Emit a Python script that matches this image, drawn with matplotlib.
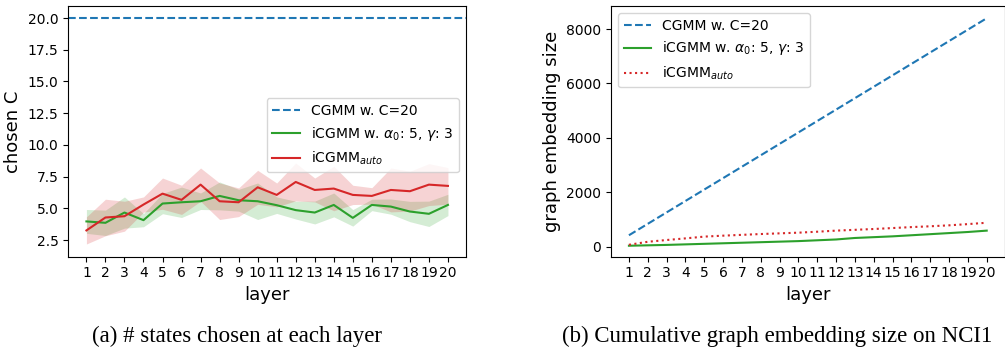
import matplotlib
matplotlib.use("Agg")
import numpy as np
import matplotlib.pyplot as plt

layers = list(range(1, 21))

# chosen C per layer (mean and std)
cgmm_c = 20
icgmm_mean = [3.97, 3.86, 4.67, 4.07, 5.38, 5.48, 5.56, 5.98, 5.64, 5.56,
              5.25, 4.86, 4.67, 5.27, 4.25, 5.27, 5.14, 4.75, 4.57, 5.27]
icgmm_std = [0.94, 1.0, 1.23, 0.52, 0.8, 1.2, 0.65, 1.1, 0.86, 1.44,
             0.65, 0.7, 0.9, 0.94, 0.65, 0.45, 0.6, 0.8, 1.0, 0.84]
auto_mean = [3.26, 4.28, 4.38, 5.30, 6.16, 5.67, 6.87, 5.56, 5.48, 6.66,
             6.06, 7.08, 6.45, 6.56, 6.06, 5.98, 6.45, 6.35, 6.87, 6.77]
auto_std = [1.07, 1.44, 1.18, 0.6, 1.23, 1.15, 1.31, 1.44, 1.13, 1.34,
            0.94, 1.49, 0.94, 1.75, 0.76, 0.65, 1.73, 1.57, 1.65, 1.44]

# cumulative graph embedding size
cgmm_size = [420, 840, 1260, 1680, 2100, 2520, 2940, 3360, 3780, 4200,
             4620, 5040, 5460, 5880, 6300, 6720, 7140, 7560, 7980, 8400]
icgmm_size = [35, 50, 65, 85, 105, 125, 145, 165, 185, 205,
              235, 265, 320, 350, 380, 420, 460, 500, 540, 590]
auto_size = [70, 180, 245, 305, 370, 405, 435, 465, 490, 515,
             550, 590, 620, 650, 685, 720, 750, 785, 830, 880]

lbl_cgmm = 'CGMM w. C=20'
lbl_icgmm = r'iCGMM w. $\alpha_0$: 5, $\gamma$: 3'
lbl_auto = r'iCGMM$_{auto}$'

fig = plt.figure(figsize=(10.05, 3.49), dpi=100)
ax1 = fig.add_axes([0.068, 0.2645, 0.3957, 0.7183])
ax2 = fig.add_axes([0.608, 0.2645, 0.3916, 0.7183])

x = np.array(layers)
ax1.axhline(cgmm_c, color='tab:blue', linestyle='--', label=lbl_cgmm)
m, s = np.array(icgmm_mean), np.array(icgmm_std)
ax1.plot(x, m, color='tab:green', label=lbl_icgmm)
ax1.fill_between(x, m - s, m + s, color='tab:green', alpha=0.2, linewidth=0)
m, s = np.array(auto_mean), np.array(auto_std)
ax1.plot(x, m, color='tab:red', label=lbl_auto)
ax1.fill_between(x, m - s, m + s, color='tab:red', alpha=0.2, linewidth=0)
ax1.set_xticks(layers)
ax1.set_xlim(0.05, 20.95)
ax1.set_yticks([2.5, 5, 7.5, 10, 12.5, 15, 17.5, 20])
ax1.set_ylim(1.19, 20.95)
ax1.tick_params(labelsize=10)
ax1.set_xlabel('layer', fontsize=13)
ax1.set_ylabel('chosen C', fontsize=13)
ax1.legend(loc='upper right', bbox_to_anchor=(0.982, 0.633), borderaxespad=0,
           fontsize=10)

ax2.plot(x, cgmm_size, color='tab:blue', linestyle='--', label=lbl_cgmm)
ax2.plot(x, icgmm_size, color='tab:green', label=lbl_icgmm)
ax2.plot(x, auto_size, color='tab:red', linestyle=':', label=lbl_auto)
ax2.set_xticks(layers)
ax2.set_xlim(0.05, 20.95)
ax2.set_yticks([0, 2000, 4000, 6000, 8000])
ax2.set_ylim(-368, 8849)
ax2.tick_params(labelsize=10)
ax2.set_xlabel('layer', fontsize=13)
ax2.set_ylabel('graph embedding size', fontsize=13)
ax2.legend(loc='upper left', fontsize=10)

fig.text(237 / 1005, 1 - 342 / 349, '(a) # states chosen at each layer',
         family='Liberation Serif', fontsize=16.5, ha='center', va='baseline')
fig.text(777 / 1005, 1 - 342 / 349, '(b) Cumulative graph embedding size on NCI1',
         family='Liberation Serif', fontsize=16.5, ha='center', va='baseline')

fig.savefig('out.png', dpi=100)
